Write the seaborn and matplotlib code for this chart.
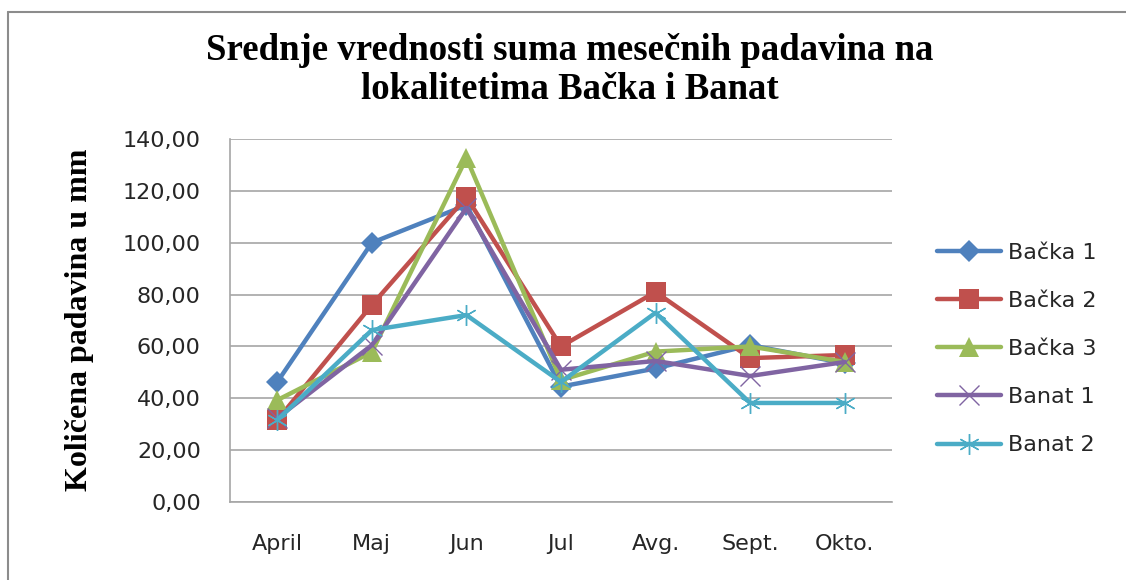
import pandas as pd
import seaborn as sns
import matplotlib.pyplot as plt
from matplotlib.lines import Line2D
from matplotlib.ticker import FuncFormatter, MultipleLocator

# Months and series values (mm)
meseci = ["April", "Maj", "Jun", "Jul", "Avg.", "Sept.", "Okto."]
serije = ["Bačka 1", "Bačka 2", "Bačka 3", "Banat 1", "Banat 2"]
backa_1 = [46.3, 100.0, 114.5, 44.5, 51.5, 60.5, 53.5]
backa_2 = [31.6, 76.0, 117.6, 60.0, 81.0, 55.5, 56.7]
backa_3 = [39.3, 57.8, 132.7, 47.0, 58.0, 60.0, 54.0]
banat_1 = [32.4, 60.5, 113.4, 51.0, 54.4, 48.6, 54.0]
banat_2 = [31.6, 66.3, 72.1, 46.3, 73.0, 38.2, 38.2]

vrednosti = [backa_1, backa_2, backa_3, banat_1, banat_2]
df = pd.DataFrame({
    "mesec": meseci * len(serije),
    "serija": [s for s in serije for _ in meseci],
    "padavine": [v for vals in vrednosti for v in vals],
})

boje = ["#4F81BD", "#C0504D", "#9BBB59", "#8064A2", "#4BACC6"]
markeri = ["D", "s", "^", "x", (6, 2, 0)]
velicine = [11, 14, 14, 14, 15]

sns.set_style("white")
plt.rcParams["font.family"] = ["DejaVu Sans"]

fig = plt.figure(figsize=(11.26, 5.8), dpi=100)
ax = fig.add_axes([230 / 1126, 1 - 502 / 580, 662 / 1126, 363 / 580])

sns.lineplot(data=df, x="mesec", y="padavine", hue="serija",
             palette=boje, linewidth=3.2, sort=False, ax=ax)

linije = ax.get_lines()[:len(serije)]
for ln, c, m, ms in zip(linije, boje, markeri, velicine):
    ln.set_marker(m)
    ln.set_markersize(ms)
    ln.set_markerfacecolor(c)
    ln.set_markeredgecolor(c)
    if m in ("x", (6, 2, 0)):
        ln.set_markeredgewidth(1.0)
    else:
        ln.set_markeredgewidth(0)

ax.get_legend().remove()
leg = ax.legend(linije, serije, loc="center left", bbox_to_anchor=(1.068, 0.4215),
                frameon=False, fontsize=16, handlelength=2.9, labelspacing=1.27,
                handletextpad=0.3, borderaxespad=0, borderpad=0)
for t in leg.get_texts():
    t.set_color("#262626")

ax.set_xlim(-0.5, 6.5)
ax.set_ylim(0, 140)
ax.yaxis.set_major_locator(MultipleLocator(20))
ax.yaxis.set_major_formatter(FuncFormatter(lambda v, p: f"{v:.2f}".replace(".", ",")))
ax.grid(axis="y", color="#a6a6a6", linewidth=1.2)
ax.grid(axis="x", visible=False)
for s in ["top", "right"]:
    ax.spines[s].set_visible(False)
for s in ["left", "bottom"]:
    ax.spines[s].set_color("#a6a6a6")
    ax.spines[s].set_linewidth(1.2)
ax.tick_params(axis="x", length=0, pad=23, labelsize=16, labelcolor="#262626")
ax.tick_params(axis="y", length=0, pad=21, labelsize=16, labelcolor="#262626")
ax.set_xlabel("")
ax.set_ylabel("")

fig.text(80 / 1126, 1 - 320 / 580, "Količena padavina u mm", rotation=90,
         ha="center", va="center", fontsize=23, fontweight="bold",
         family="Liberation Serif", color="black")

fig.text(0.506, 1 - 70 / 580, "Srednje vrednosti suma mesečnih padavina na\nlokalitetima Bačka i Banat",
         ha="center", va="center", fontsize=26.5, fontweight="bold",
         family="Liberation Serif", linespacing=1.12, color="black")

# chart frame
fig.add_artist(Line2D([8 / 1126, 8 / 1126], [0, 1 - 12 / 580], color="#8c8c8c", lw=1.5))
fig.add_artist(Line2D([8 / 1126, 1], [1 - 12 / 580, 1 - 12 / 580], color="#8c8c8c", lw=1.5))

fig.savefig("out.png", dpi=100)
